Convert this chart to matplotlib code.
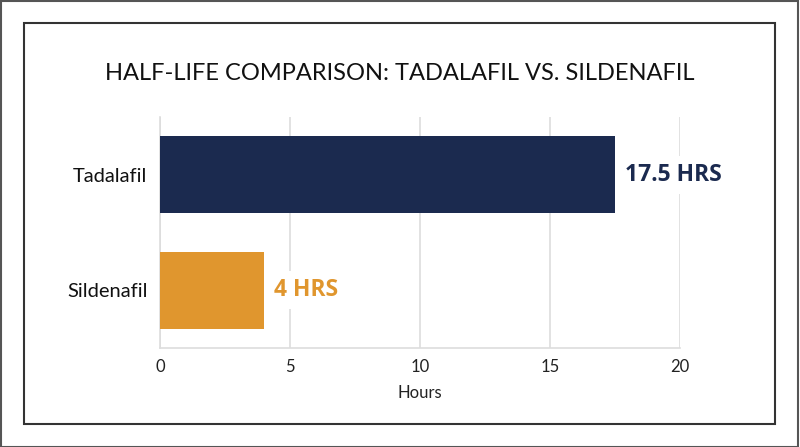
import matplotlib
matplotlib.use("Agg")
import matplotlib.pyplot as plt
from matplotlib.patches import Rectangle

drugs = ["Sildenafil", "Tadalafil"]
half_life = [4, 17.5]
labels = ["4 HRS", "17.5 HRS"]
colors = ["#E0962E", "#1B2A4F"]
xticks = [0, 5, 10, 15, 20]

fig = plt.figure(figsize=(8, 4.47), dpi=100)
fig.patch.set_facecolor("white")

# frames
fig.add_artist(Rectangle((0.001, 0.001), 0.997, 0.997, transform=fig.transFigure,
                         fill=False, edgecolor="#555555", linewidth=1.5))
fig.add_artist(Rectangle((24/800, 1-424/447), (775-24)/800, (424-23)/447,
                         transform=fig.transFigure, fill=False,
                         edgecolor="#333333", linewidth=1.5))

ax = fig.add_axes([160/800, 1-348/447, 520/800, (348-117)/447])
y = list(range(len(drugs)))
ax.barh(y, half_life, height=0.67, color=colors, zorder=3)
ax.set_ylim(-0.5, 1.5)
ax.set_xlim(0, 20)
ax.set_xticks(xticks)
ax.set_xticklabels([str(t) for t in xticks], fontsize=12, family="Lato", color="#222222")
ax.set_yticks(y)
ax.set_yticklabels(drugs, fontsize=14.5, family="Lato", color="#111111")
ax.tick_params(length=0, pad=9)
ax.tick_params(axis="x", pad=8)
ax.grid(axis="x", color="#dddddd", linewidth=1.2, zorder=0)
for s in ["top", "right"]:
    ax.spines[s].set_visible(False)
for s in ["left", "bottom"]:
    ax.spines[s].set_color("#dddddd")
    ax.spines[s].set_linewidth(1.2)
ax.set_xlabel("Hours", fontsize=12, family="Lato", color="#222222", labelpad=7)

for yi, v, lab, c in zip(y, half_life, labels, colors):
    ax.annotate(lab, (v, yi), xytext=(7, 0), textcoords="offset points",
                ha="left", va="center", fontsize=16.5, fontweight="bold",
                family="Open Sans", color=c, zorder=4,
                bbox=dict(boxstyle="square,pad=0.3", facecolor="white", edgecolor="none"))

fig.text(0.5, 1-73/447, "HALF-LIFE COMPARISON: TADALAFIL VS. SILDENAFIL",
         ha="center", va="center", fontsize=17, family="Lato", color="#111111")

fig.savefig("out.png", dpi=100, facecolor="white")
